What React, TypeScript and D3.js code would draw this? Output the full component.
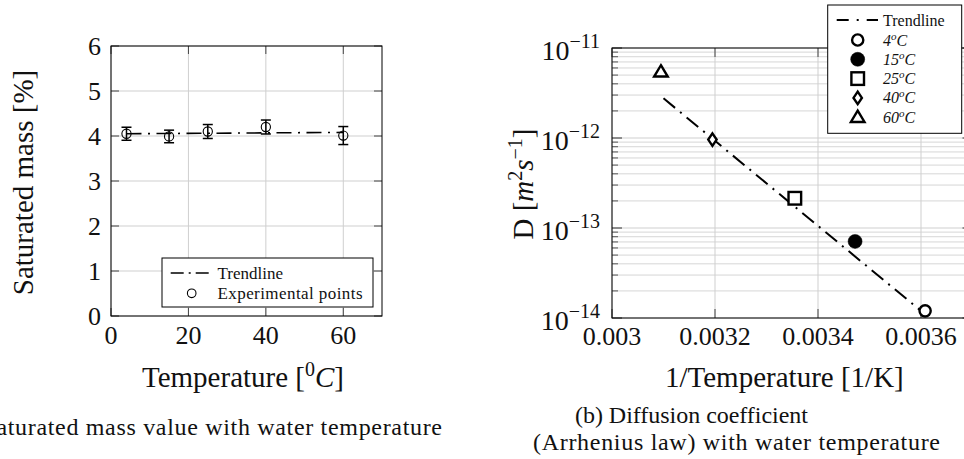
import React from "react";
import * as d3 from "d3";

// ---------- Data: (a) saturated mass ----------
const tempsC = [4, 15, 25, 40, 60];
const massPct = [4.05, 3.99, 4.1, 4.2, 4.01];
const massErr = [0.145, 0.14, 0.155, 0.155, 0.2];
const massTrendX = [4, 60];
const massTrendY = [4.05, 4.08];
const leftXTicks = [0, 20, 40, 60];
const leftYTicks = [0, 1, 2, 3, 4, 5, 6];

// ---------- Data: (b) diffusion coefficient ----------
const invT = [0.003608, 0.003472, 0.003355, 0.003195, 0.003095];
const diffD = [1.2e-14, 7.1e-14, 2.14e-13, 9.6e-13, 5.45e-12];
const seriesLabels = ["4", "15", "25", "40", "60"];
const seriesMarkers = ["circle", "disc", "square", "diamond", "triangle"];
const arrTrendX = [0.0031, 0.0036];
const arrTrendY = [2.76e-12, 1.2e-14];
const rightXTicks = [0.003, 0.0032, 0.0034, 0.0036];
const rightXTickLabels = ["0.003", "0.0032", "0.0034", "0.0036"];
const rightYExps = [-11, -12, -13, -14];

const FONT = "Liberation Serif";
const GRID = "#cfcfcf";
const DASH = "15,6.5,2,6.5";

function Marker({ kind, x, y }: { kind: string; x: number; y: number }) {
  const sw = 2.4;
  if (kind === "circle")
    return <circle cx={x} cy={y} r={5.6} fill="white" stroke="black" strokeWidth={sw} />;
  if (kind === "disc")
    return <circle cx={x} cy={y} r={7} fill="black" stroke="black" strokeWidth={0.5} />;
  if (kind === "square")
    return <rect x={x - 6.3} y={y - 6.3} width={12.6} height={12.6} fill="white" stroke="black" strokeWidth={sw} />;
  if (kind === "diamond")
    return (
      <path d={`M${x},${y - 6.3}L${x + 4.2},${y}L${x},${y + 6.3}L${x - 4.2},${y}Z`} fill="white" stroke="black" strokeWidth={sw} />
    );
  return (
    <path d={`M${x},${y - 6.5}L${x + 6.8},${y + 4.8}L${x - 6.8},${y + 4.8}Z`} fill="white" stroke="black" strokeWidth={sw} strokeLinejoin="miter" />
  );
}

export default function App() {
  const xL = d3.scaleLinear().domain([0, 70]).range([111, 382]);
  const yL = d3.scaleLinear().domain([0, 6]).range([316, 46]);
  const lineL = d3
    .line<number>()
    .x((_, i) => xL(massTrendX[i]))
    .y((d) => yL(d));

  const xR = d3.scaleLinear().domain([0.003, 0.0037]).range([612, 972.5]);
  const yR = d3.scaleLog().domain([1e-14, 1e-11]).range([318, 48]);
  const lineR = d3
    .line<number>()
    .x((_, i) => xR(arrTrendX[i]))
    .y((d) => yR(d));

  const minor: number[] = [];
  for (let e = -14; e < -11; e++) for (let k = 2; k <= 9; k++) minor.push(k * Math.pow(10, e));

  const [l0, l1] = xL.range();
  const [lb, lt] = yL.range();
  const [r0, r1] = xR.range();
  const [rb, rt] = yR.range();

  return (
    <svg
      width={964}
      height={459}
      style={{ position: "absolute", left: 0, top: 0, background: "white", fontFamily: FONT }}
    >
      <style>{`text{font-family:'Liberation Serif',serif;fill:#111;}`}</style>
      <rect x={0} y={0} width={964} height={459} fill="white" />

      {/* ================= LEFT CHART ================= */}
      {leftXTicks.map((t) => (
        <line key={"lgx" + t} x1={xL(t)} x2={xL(t)} y1={lb} y2={lt} stroke={GRID} strokeWidth={1} />
      ))}
      {leftYTicks.map((t) => (
        <line key={"lgy" + t} x1={l0} x2={l1} y1={yL(t)} y2={yL(t)} stroke={GRID} strokeWidth={1} />
      ))}
      {leftXTicks.map((t) => (
        <g key={"ltx" + t}>
          <line x1={xL(t)} x2={xL(t)} y1={lb} y2={lb - 8} stroke="#444" />
          <line x1={xL(t)} x2={xL(t)} y1={lt} y2={lt + 8} stroke="#444" />
        </g>
      ))}
      {leftYTicks.map((t) => (
        <g key={"lty" + t}>
          <line x1={l0} x2={l0 + 8} y1={yL(t)} y2={yL(t)} stroke="#444" />
          <line x1={l1} x2={l1 - 8} y1={yL(t)} y2={yL(t)} stroke="#444" />
        </g>
      ))}
      <rect x={l0} y={lt} width={l1 - l0} height={lb - lt} fill="none" stroke="black" strokeWidth={1} />

      <path d={lineL(massTrendY) || ""} fill="none" stroke="black" strokeWidth={1.6} strokeDasharray={DASH} />
      {tempsC.map((t, i) => {
        const x = xL(t);
        const y1 = yL(massPct[i] + massErr[i]);
        const y2 = yL(massPct[i] - massErr[i]);
        return (
          <g key={"pt" + i}>
            <line x1={x} x2={x} y1={y1} y2={y2} stroke="black" strokeWidth={1.5} />
            <line x1={x - 5} x2={x + 5} y1={y1} y2={y1} stroke="black" strokeWidth={1.5} />
            <line x1={x - 5} x2={x + 5} y1={y2} y2={y2} stroke="black" strokeWidth={1.5} />
            <circle cx={x} cy={yL(massPct[i])} r={4.6} fill="none" stroke="black" strokeWidth={1.1} />
          </g>
        );
      })}

      {leftXTicks.map((t) => (
        <text key={"lxl" + t} x={xL(t)} y={344} fontSize={26} textAnchor="middle">
          {t}
        </text>
      ))}
      {leftYTicks.map((t) => (
        <text key={"lyl" + t} x={101} y={yL(t) + 8.5} fontSize={26} textAnchor="end">
          {t}
        </text>
      ))}

      {/* legend */}
      <rect x={162} y={258} width={211} height={49} fill="white" stroke="black" strokeWidth={1} />
      <line x1={170.7} x2={212} y1={273} y2={273} stroke="black" strokeWidth={1.6} strokeDasharray="13,5,2,5" />
      <text x={217.5} y={278.5} fontSize={17}>Trendline</text>
      <circle cx={191.7} cy={293.3} r={4.3} fill="white" stroke="black" strokeWidth={1.1} />
      <text x={217.5} y={298.5} fontSize={17} textLength={145} lengthAdjust="spacing">
        Experimental points
      </text>

      {/* axis labels */}
      <text x={142} y={387} fontSize={29}>
        Temperature [<tspan fontSize={20} dy={-11}>0</tspan>
        <tspan fontStyle="italic" dy={11}>C</tspan>]
      </text>
      <text transform="translate(33,182.5) rotate(-90)" fontSize={29} textAnchor="middle">
        Saturated mass [%]
      </text>

      {/* caption (clipped on the left as in the source) */}
      <text x={-53} y={435} fontSize={24} textLength={495} lengthAdjust="spacing">
        (a) Saturated mass value with water temperature
      </text>

      {/* ================= RIGHT CHART ================= */}
      {minor.map((v, i) => (
        <line key={"rmg" + i} x1={r0} x2={r1} y1={yR(v)} y2={yR(v)} stroke="#d6d6d6" strokeWidth={1} />
      ))}
      {rightYExps.map((e) => (
        <line key={"rgy" + e} x1={r0} x2={r1} y1={yR(Math.pow(10, e))} y2={yR(Math.pow(10, e))} stroke={GRID} strokeWidth={1} />
      ))}
      {rightXTicks.map((t) => (
        <line key={"rgx" + t} x1={xR(t)} x2={xR(t)} y1={rb} y2={rt} stroke={GRID} strokeWidth={1} />
      ))}
      {minor.map((v, i) => (
        <g key={"rmt" + i}>
          <line x1={r0} x2={r0 + 6} y1={yR(v)} y2={yR(v)} stroke="#555" />
          <line x1={r1} x2={r1 - 6} y1={yR(v)} y2={yR(v)} stroke="#555" />
        </g>
      ))}
      {rightYExps.map((e) => (
        <g key={"rmy" + e}>
          <line x1={r0} x2={r0 + 10} y1={yR(Math.pow(10, e))} y2={yR(Math.pow(10, e))} stroke="#333" />
          <line x1={r1} x2={r1 - 10} y1={yR(Math.pow(10, e))} y2={yR(Math.pow(10, e))} stroke="#333" />
        </g>
      ))}
      {rightXTicks.map((t) => (
        <g key={"rtx" + t}>
          <line x1={xR(t)} x2={xR(t)} y1={rb} y2={rb - 9} stroke="#444" />
          <line x1={xR(t)} x2={xR(t)} y1={rt} y2={rt + 9} stroke="#444" />
        </g>
      ))}
      <rect x={r0} y={rt} width={r1 - r0} height={rb - rt} fill="none" stroke="black" strokeWidth={1} />

      <path d={lineR(arrTrendY) || ""} fill="none" stroke="black" strokeWidth={2} strokeDasharray={DASH} />
      {invT.map((v, i) => (
        <Marker key={"m" + i} kind={seriesMarkers[i]} x={xR(v)} y={yR(diffD[i])} />
      ))}

      {rightXTicks.map((t, i) => (
        <text key={"rxl" + t} x={xR(t)} y={345} fontSize={26} textAnchor="middle">
          {rightXTickLabels[i]}
        </text>
      ))}
      {rightYExps.map((e) => (
        <text key={"ryl" + e} x={600} y={yR(Math.pow(10, e)) + 12} fontSize={28} textAnchor="end">
          10<tspan fontSize={20} dy={-12}>{"\u2212" + Math.abs(e)}</tspan>
        </text>
      ))}

      {/* axis labels */}
      <text x={665} y={387} fontSize={29}>
        1/Temperature [1/K]
      </text>
      <text transform="translate(533,184) rotate(-90)" fontSize={29} textAnchor="middle">
        D [<tspan fontStyle="italic">m</tspan>
        <tspan fontSize={20} dy={-11}>2</tspan>
        <tspan fontStyle="italic" dy={11}>s</tspan>
        <tspan fontSize={20} dy={-11}>{"\u22121"}</tspan>
        <tspan dy={11}>]</tspan>
      </text>

      {/* legend */}
      <rect x={827.7} y={5} width={134} height={128.3} fill="white" stroke="black" strokeWidth={1} />
      <line x1={836.7} x2={878} y1={20} y2={20} stroke="black" strokeWidth={1.8} strokeDasharray="12,8,2,8" />
      <text x={883} y={25.5} fontSize={16}>Trendline</text>
      {seriesLabels.map((lab, i) => {
        const cy = 40 + i * 19.3;
        return (
          <g key={"lg" + i}>
            <Marker kind={seriesMarkers[i]} x={857.7} y={cy} />
            <text x={883} y={cy + 5.5} fontSize={16} fontStyle="italic">
              {lab}
              <tspan fontSize={11} dy={-6}>o</tspan>
              <tspan dy={6}>C</tspan>
            </text>
          </g>
        );
      })}

      {/* caption */}
      <text x={575} y={423} fontSize={24} textLength={233} lengthAdjust="spacing">
        (b) Diffusion coefficient
      </text>
      <text x={533} y={450} fontSize={24} textLength={407} lengthAdjust="spacing">
        (Arrhenius law) with water temperature
      </text>
    </svg>
  );
}
